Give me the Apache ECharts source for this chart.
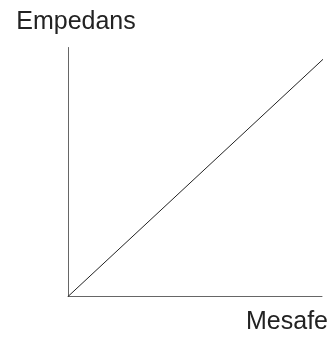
<!DOCTYPE html>
<html>
<head>
<meta charset="utf-8">
<script src="https://cdn.jsdelivr.net/npm/echarts@6/dist/echarts.min.js"></script>
<style>html,body{margin:0;padding:0;background:#fff}#c{width:331px;height:338px}</style>
</head>
<body>
<div id="c"></div>
<script>
const xAxisName = 'Mesafe';
const yAxisName = 'Empedans';
const distance = [0, 103.7];
const impedance = [0, 98.4];

const chart = echarts.init(document.getElementById('c'), null, {renderer: 'canvas'});
chart.setOption({
  animation: false,
  grid: {left: 68, right: 9, top: 47.5, bottom: 41.5},
  xAxis: {
    type: 'value', min: 0, max: 100,
    name: xAxisName, nameLocation: 'end', nameGap: 6,
    nameTextStyle: {fontFamily: 'Liberation Sans', fontSize: 25, color: '#222', align: 'right', verticalAlign: 'top', padding: [13, 0, 0, 0]},
    axisLine: {show: true, lineStyle: {color: '#666', width: 1}},
    axisTick: {show: false}, axisLabel: {show: false}, splitLine: {show: false}
  },
  yAxis: {
    type: 'value', min: 0, max: 100,
    name: yAxisName, nameLocation: 'end', nameGap: 13,
    nameTextStyle: {fontFamily: 'Liberation Sans', fontSize: 25, color: '#222', align: 'center', padding: [0, 0, 0, 16]},
    axisLine: {show: true, lineStyle: {color: '#666', width: 1}},
    axisTick: {show: false}, axisLabel: {show: false}, splitLine: {show: false}
  },
  series: [{
    type: 'line',
    data: distance.map((d, i) => [d, impedance[i]]),
    clip: false, showSymbol: false, symbol: 'none',
    lineStyle: {color: '#222', width: 1}
  }]
});
</script>
</body>
</html>
